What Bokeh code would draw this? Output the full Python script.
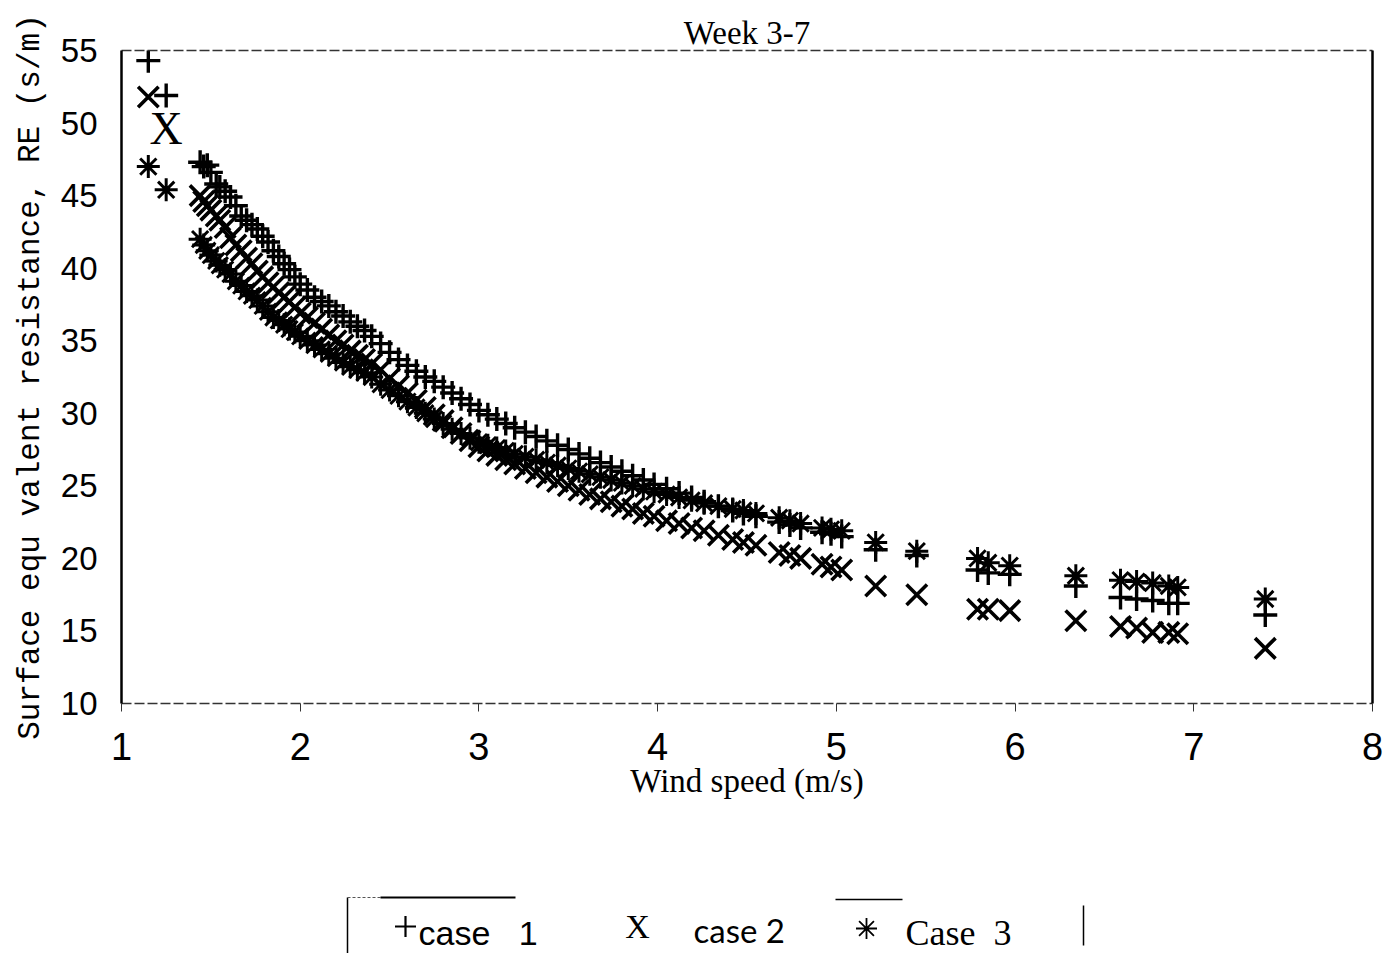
from bokeh.plotting import figure
from bokeh.models import Range1d, FixedTicker, LinearAxis, ColumnDataSource
from bokeh.layouts import column
from bokeh.core.properties import value
from bokeh.embed import file_html
from bokeh.resources import INLINE

# ---------------- data ----------------
wind_speed = [1.15, 1.25,
              1.44, 1.46, 1.48, 1.50, 1.53, 1.55, 1.58, 1.61, 1.64, 1.67, 1.70, 1.73, 1.76, 1.79, 1.82, 1.85, 1.88, 1.91, 1.94, 1.97,
              2.00, 2.04, 2.08, 2.12, 2.16, 2.20, 2.24, 2.28, 2.32, 2.36, 2.40, 2.45, 2.50, 2.55, 2.60, 2.65, 2.70, 2.75, 2.80, 2.85, 2.90, 2.95,
              3.00, 3.05, 3.10, 3.15, 3.20, 3.26, 3.32, 3.38, 3.44, 3.50, 3.56, 3.62, 3.68, 3.74, 3.80, 3.86, 3.92, 3.98,
              4.05, 4.12, 4.19, 4.26, 4.34, 4.42, 4.48, 4.55, 4.68, 4.74, 4.80, 4.92, 4.97, 5.03,
              5.22, 5.45, 5.79, 5.85, 5.97, 6.34, 6.59, 6.68, 6.77, 6.86, 6.91, 7.40]

case1 = [54.3, 51.9,
         47.3, 47.0, 47.1, 46.6, 45.8, 45.6, 45.3, 44.9, 44.3, 43.6, 43.3, 43.0, 42.7, 42.2, 41.8, 41.2, 40.8, 40.3, 39.9, 39.4,
         38.9, 38.5, 38.0, 37.7, 37.4, 37.0, 36.7, 36.3, 36.0, 35.7, 35.3, 34.8, 34.2, 33.7, 33.3, 32.9, 32.5, 32.2, 31.8, 31.4, 31.0, 30.6,
         30.2, 29.9, 29.6, 29.3, 29.0, 28.7, 28.4, 28.1, 27.8, 27.5, 27.2, 26.9, 26.6, 26.3, 26.0, 25.7, 25.4, 25.1,
         24.8, 24.5, 24.2, 23.9, 23.6, 23.3, 23.1, 22.9, 22.5, 22.3, 22.1, 21.8, 21.7, 21.5,
         20.6, 20.2, 19.2, 19.0, 18.9, 18.1, 17.3, 17.2, 17.1, 16.9, 16.9, 16.1]

case2 = [51.8, 49.6,
         45.0, 44.6, 44.3, 44.0, 43.6, 43.3, 42.8, 42.1, 41.6, 41.2, 40.7, 40.3, 39.8, 39.4, 39.0, 38.7, 38.3, 38.0, 37.7, 37.3,
         36.9, 36.6, 36.2, 35.8, 35.4, 35.0, 34.7, 34.3, 34.0, 33.7, 33.4, 33.0, 32.4, 31.9, 31.4, 30.9, 30.4, 29.9, 29.5, 29.0, 28.6, 28.1,
         27.7, 27.4, 27.1, 26.8, 26.5, 26.2, 25.9, 25.6, 25.3, 25.0, 24.7, 24.4, 24.1, 23.9, 23.6, 23.4, 23.1, 22.9,
         22.6, 22.4, 22.1, 21.9, 21.6, 21.3, 21.1, 20.9, 20.4, 20.2, 20.0, 19.6, 19.4, 19.2,
         18.1, 17.5, 16.5, 16.5, 16.4, 15.7, 15.3, 15.2, 14.9, 14.9, 14.8, 13.8]

case3 = [47.0, 45.4,
         42.0, 41.6, 41.2, 40.9, 40.5, 40.2, 39.9, 39.6, 39.1, 38.8, 38.4, 38.1, 37.8, 37.4, 37.0, 36.6, 36.4, 36.1, 35.8, 35.6,
         35.3, 35.0, 34.7, 34.4, 34.1, 33.8, 33.5, 33.2, 33.0, 32.8, 32.5, 32.0, 31.6, 31.2, 30.8, 30.4, 30.0, 29.6, 29.3, 28.9, 28.6, 28.3,
         28.0, 27.8, 27.6, 27.4, 27.2, 27.0, 26.8, 26.6, 26.4, 26.2, 26.0, 25.8, 25.6, 25.4, 25.2, 25.0, 24.8, 24.6,
         24.4, 24.2, 24.0, 23.8, 23.6, 23.4, 23.3, 23.1, 22.8, 22.6, 22.4, 22.1, 22.0, 21.9,
         21.1, 20.5, 20.0, 19.7, 19.5, 18.8, 18.5, 18.4, 18.3, 18.1, 18.0, 17.2]

# index of the case-2 point that the original draws as a letter "X"
case2_letter_index = [1]

x_ticks = [1, 2, 3, 4, 5, 6, 7, 8]
y_ticks = [10, 15, 20, 25, 30, 35, 40, 45, 50, 55]
title_text = "Week 3-7"
x_title = "Wind speed (m/s)"
y_title = "Surface equ valent resistance, RE (s/m)"
legend_labels = ["case 1", "case 2", "Case 3"]

assert len(wind_speed) == len(case1) == len(case2) == len(case3)

# ---------------- main plot ----------------
p = figure(width=1390, height=880, x_range=Range1d(1, 8), y_range=Range1d(10, 55),
           title=title_text, output_backend="svg", toolbar_location=None,
           min_border_left=121, min_border_right=18, min_border_top=50, min_border_bottom=177)
p.background_fill_color = "white"
p.border_fill_color = "white"
p.outline_line_color = None
p.grid.visible = False

p.title.align = "center"
p.title.text_font = "Liberation Serif"
p.title.text_font_style = "normal"
p.title.text_font_size = "33px"
p.title.text_color = "black"
p.title.standoff = 0

ax = p.xaxis[0]
ax.ticker = FixedTicker(ticks=x_ticks)
ax.axis_line_color = "#333333"
ax.axis_line_width = 1.5
ax.axis_line_dash = "10 3"
ax.major_tick_out = 8
ax.major_tick_in = 0
ax.major_tick_line_color = "#333333"
ax.minor_tick_line_color = None
ax.major_label_text_font = "Liberation Sans"
ax.major_label_text_font_size = "38px"
ax.major_label_text_color = "black"
ax.major_label_standoff = 21
ax.axis_label = x_title
ax.axis_label_text_font = "Liberation Serif"
ax.axis_label_text_font_style = "normal"
ax.axis_label_text_font_size = "33px"
ax.axis_label_text_color = "black"
ax.axis_label_standoff = 0

ay = p.yaxis[0]
ay.ticker = FixedTicker(ticks=y_ticks)
ay.axis_line_color = "black"
ay.axis_line_width = 2.5
ay.major_tick_out = 0
ay.major_tick_in = 0
ay.minor_tick_line_color = None
ay.major_label_text_font = "Liberation Sans"
ay.major_label_text_font_size = "33px"
ay.major_label_text_color = "black"
ay.major_label_standoff = 24
ay.axis_label = y_title
ay.axis_label_text_font = "Liberation Mono"
ay.axis_label_text_font_style = "normal"
ay.axis_label_text_font_size = "31px"
ay.axis_label_text_color = "black"
ay.axis_label_standoff = 10

top_axis = LinearAxis(ticker=FixedTicker(ticks=[]), axis_line_color="#333333", axis_line_width=1.5,
                      axis_line_dash="10 3", major_tick_out=0, major_tick_in=0,
                      minor_tick_line_color=None, major_label_text_font_size="0px")
p.add_layout(top_axis, "above")
right_axis = LinearAxis(ticker=FixedTicker(ticks=[]), axis_line_color="black", axis_line_width=2.5,
                        major_tick_out=0, major_tick_in=0,
                        minor_tick_line_color=None, major_label_text_font_size="0px")
p.add_layout(right_axis, "right")

src = ColumnDataSource(dict(u=wind_speed, c1=case1, c3=case3))
mask = [i not in case2_letter_index for i in range(len(wind_speed))]
src2 = ColumnDataSource(dict(u=[w for w, m in zip(wind_speed, mask) if m],
                             c2=[v for v, m in zip(case2, mask) if m]))
src2t = ColumnDataSource(dict(u=[wind_speed[i] for i in case2_letter_index],
                              c2=[case2[i] for i in case2_letter_index],
                              t=["X" for _ in case2_letter_index]))

p.scatter("u", "c1", source=src, marker="cross", size=24, line_width=3.4, line_color="black")
p.scatter("u", "c2", source=src2, marker="x", size=29, line_width=3.6, line_color="black")
p.text("u", "c2", text="t", source=src2t, text_font=value("Liberation Serif"),
       text_font_size="46px", text_align="center", text_baseline="middle", text_color="black")
p.scatter("u", "c3", source=src, marker="asterisk", size=23, line_width=3, line_color="black")

# ---------------- legend strip (frame aligned with the plot frame, so x = page pixels) ----------------
lg = figure(width=1390, height=73, x_range=Range1d(121, 1372), y_range=Range1d(0, 73),
            output_backend="svg", toolbar_location=None,
            min_border_left=0, min_border_right=0, min_border_top=0, min_border_bottom=0)
lg.axis.visible = False
lg.grid.visible = False
lg.outline_line_color = None
lg.background_fill_color = "white"
lg.border_fill_color = "white"

lg.segment(x0=[347], y0=[56], x1=[347], y1=[0], line_color="black", line_width=1.5)
lg.segment(x0=[347], y0=[56], x1=[380], y1=[56], line_color="#555555", line_width=1.2, line_dash="3 2")
lg.segment(x0=[380], y0=[56], x1=[515], y1=[56], line_color="black", line_width=2)
lg.segment(x0=[835], y0=[54], x1=[902], y1=[54], line_color="black", line_width=1.5)
lg.segment(x0=[1083], y0=[48], x1=[1083], y1=[8], line_color="black", line_width=1.5)

lg.scatter(x=[405], y=[27], marker="cross", size=21, line_width=2.2, line_color="black")
lg.text(x=[418], y=[21], text=[legend_labels[0].replace(" ", "\u00a0\u00a0\u00a0")],
        text_font=value("Liberation Sans"), text_font_size="34px", text_baseline="middle", text_color="black")
lg.text(x=[637], y=[27], text=["X"], text_font=value("Liberation Serif"), text_font_size="34px",
        text_align="center", text_baseline="middle", text_color="black")
lg.text(x=[693], y=[24], text=[legend_labels[1]], text_font=value("Lato"), text_font_size="33px",
        text_baseline="middle", text_color="black")
lg.scatter(x=[866], y=[25], marker="asterisk", size=21, line_width=1.8, line_color="black")
lg.text(x=[905], y=[21], text=[legend_labels[2].replace(" ", "\u00a0\u00a0")],
        text_font=value("Liberation Serif"), text_font_size="36px", text_baseline="middle", text_color="black")

layout = column(p, lg, spacing=0)
open("out.html", "w").write(file_html(layout, INLINE))
